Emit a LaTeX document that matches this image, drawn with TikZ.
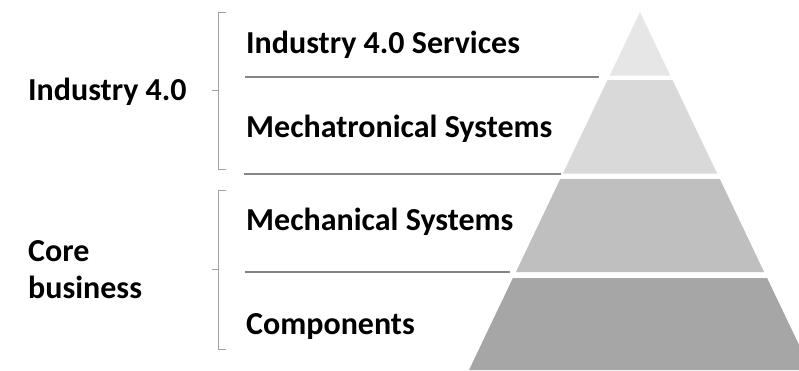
\documentclass[tikz,border=0pt]{standalone}
\usepackage{fontspec}
\setmainfont{Carlito}
\definecolor{tierA}{HTML}{E6E6E6}
\definecolor{tierB}{HTML}{D9D9D9}
\definecolor{tierC}{HTML}{BFBFBF}
\definecolor{tierD}{HTML}{A6A6A6}
\definecolor{rulegray}{HTML}{858585}
\definecolor{bracegray}{HTML}{A0A0A0}
\begin{document}
\begin{tikzpicture}[x=1pt,y=-1pt,
  layer/.style={font=\fontsize{32}{37}\selectfont\bfseries, anchor=base west, inner sep=0pt},
  group/.style={font=\fontsize{32}{37}\selectfont\bfseries, anchor=base west, inner sep=0pt, align=left},
  sepline/.style={draw=rulegray, line width=1.8pt},
  bracket/.style={draw=bracegray, line width=1pt}]
\useasboundingbox (0,0) rectangle (799,370);
\begin{scope}
\clip (0,0) rectangle (799,370);
% pyramid tiers, apex (640,12), side slope 0.4777
\fill[tierA] (640,12) -- (670.3,75.5) -- (609.7,75.5) -- cycle;
\fill[tierB] (607.5,80) -- (672.5,80) -- (717.1,173.5) -- (562.9,173.5) -- cycle;
\fill[tierC] (560.2,179) -- (719.8,179) -- (764.1,272) -- (515.9,272) -- cycle;
\fill[tierD] (512.9,278) -- (767.1,278) -- (811,370) -- (469,370) -- cycle;
\end{scope}
% layer labels
\node[layer] (svc) at (246,53.5) {Industry 4.0 Services};
\node[layer] (mtr) at (246,137.5) {Mechatronical Systems};
\node[layer] (mec) at (246,230) {Mechanical Systems};
\node[layer] (cmp) at (246,334) {Components};
% separators between layers
\coordinate (s1a) at (245,77.3); \coordinate (s1b) at (599,77.3);
\coordinate (s2a) at (243.5,173.7); \coordinate (s2b) at (561,173.7);
\coordinate (s3a) at (245,272.3); \coordinate (s3b) at (509.5,272.3);
\draw[sepline] (s1a) -- (s1b);
\draw[sepline] (s2a) -- (s2b);
\draw[sepline] (s3a) -- (s3b);
% group brackets
\coordinate (b1t) at (226,12); \coordinate (b1b) at (226,169); \coordinate (b1m) at (212,90);
\coordinate (b2t) at (226,190); \coordinate (b2b) at (226,349); \coordinate (b2m) at (212,269.5);
\draw[bracket] (b1t) -- (218.5,12) -- (218.5,169) -- (b1b);
\draw[bracket] (b1m) -- (218.5,90);
\draw[bracket] (b2t) -- (218.5,190) -- (218.5,349) -- (b2b);
\draw[bracket] (b2m) -- (218.5,269.5);
% group labels (base anchor sits on the last line)
\node[group] (ind) at (28,100) {Industry 4.0};
\node[group] (core) at (28,298) {Core\\business};
\end{tikzpicture}
\end{document}
